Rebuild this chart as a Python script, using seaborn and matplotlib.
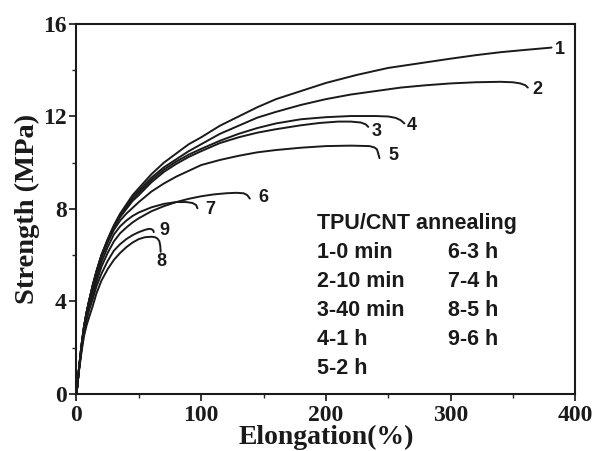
import matplotlib
matplotlib.use("Agg")
import matplotlib.pyplot as plt
import seaborn as sns
import pandas as pd
from matplotlib.ticker import MultipleLocator

sns.set_style("white")

# Stress-strain curves (elongation %, strength MPa)
c1_x = [0, 2, 4, 6, 8, 10, 13, 16, 20, 25, 30, 35, 40, 45, 50, 60, 70, 80, 90, 100, 115, 130, 145, 160, 180, 200, 225, 250, 275, 300, 320, 340, 360, 381]
c1_y = [0, 1.1, 2.1, 2.9, 3.5, 4.0, 4.7, 5.3, 6.0, 6.7, 7.3, 7.8, 8.2, 8.6, 8.9, 9.5, 10.0, 10.4, 10.8, 11.1, 11.6, 12.0, 12.4, 12.75, 13.1, 13.45, 13.8, 14.1, 14.3, 14.5, 14.65, 14.78, 14.88, 14.98]
c2_x = [0, 2, 4, 6, 8, 10, 13, 16, 20, 25, 30, 35, 40, 45, 50, 60, 70, 80, 90, 100, 115, 130, 145, 160, 180, 200, 220, 240, 260, 280, 300, 320, 340, 350, 356, 360, 362]
c2_y = [0, 1.1, 2.1, 2.9, 3.5, 4.0, 4.7, 5.3, 6.0, 6.65, 7.25, 7.7, 8.1, 8.5, 8.8, 9.35, 9.8, 10.15, 10.5, 10.8, 11.25, 11.6, 11.95, 12.2, 12.5, 12.75, 12.95, 13.1, 13.25, 13.35, 13.43, 13.48, 13.5, 13.48, 13.43, 13.35, 13.25]
c3_x = [0, 2, 4, 6, 8, 10, 13, 16, 20, 25, 30, 35, 40, 45, 50, 60, 70, 80, 90, 100, 115, 130, 145, 160, 180, 195, 210, 220, 228, 232, 234]
c3_y = [0, 1.1, 2.1, 2.9, 3.5, 4.0, 4.65, 5.25, 5.95, 6.6, 7.2, 7.65, 8.0, 8.35, 8.6, 9.15, 9.6, 9.95, 10.25, 10.5, 10.85, 11.1, 11.3, 11.45, 11.62, 11.72, 11.78, 11.78, 11.74, 11.66, 11.55]
c4_x = [0, 2, 4, 6, 8, 10, 13, 16, 20, 25, 30, 35, 40, 45, 50, 60, 70, 80, 90, 100, 115, 130, 145, 160, 180, 200, 220, 240, 250, 256, 260, 263]
c4_y = [0, 1.1, 2.1, 2.9, 3.5, 4.0, 4.7, 5.3, 6.0, 6.65, 7.25, 7.7, 8.05, 8.4, 8.7, 9.25, 9.7, 10.05, 10.35, 10.6, 10.95, 11.25, 11.5, 11.7, 11.88, 11.97, 12.02, 12.02, 12.0, 11.94, 11.84, 11.7]
c5_x = [0, 2, 4, 6, 8, 10, 13, 16, 20, 25, 30, 35, 40, 45, 50, 60, 70, 80, 90, 100, 115, 130, 145, 160, 180, 200, 220, 235, 239, 241, 242, 243]
c5_y = [0, 1.1, 2.1, 2.9, 3.5, 4.0, 4.6, 5.2, 5.9, 6.55, 7.1, 7.5, 7.8, 8.05, 8.3, 8.75, 9.1, 9.4, 9.65, 9.9, 10.12, 10.3, 10.45, 10.55, 10.65, 10.72, 10.74, 10.72, 10.66, 10.58, 10.4, 10.2]
c6_x = [0, 2, 4, 6, 8, 10, 13, 16, 20, 25, 30, 35, 40, 45, 50, 60, 70, 80, 90, 100, 110, 120, 128, 134, 137, 139]
c6_y = [0, 1.05, 1.95, 2.7, 3.25, 3.7, 4.3, 4.85, 5.5, 6.1, 6.6, 6.95, 7.2, 7.42, 7.6, 7.9, 8.12, 8.3, 8.44, 8.55, 8.63, 8.68, 8.7, 8.68, 8.6, 8.45]
c7_x = [0, 2, 4, 6, 8, 10, 13, 16, 20, 25, 30, 35, 40, 45, 50, 60, 70, 80, 88, 93, 96, 97]
c7_y = [0, 1.05, 2.0, 2.8, 3.35, 3.8, 4.4, 5.0, 5.7, 6.35, 6.9, 7.25, 7.5, 7.7, 7.85, 8.07, 8.22, 8.3, 8.3, 8.26, 8.17, 8.03]
c8_x = [0, 2, 4, 6, 8, 10, 13, 16, 20, 25, 30, 35, 40, 45, 50, 55, 60, 63, 65, 66.5, 67.2, 67.5]
c8_y = [0, 1.0, 1.8, 2.5, 2.95, 3.3, 3.8, 4.35, 4.9, 5.4, 5.8, 6.1, 6.35, 6.55, 6.7, 6.78, 6.8, 6.78, 6.72, 6.6, 6.4, 6.15]
c9_x = [0, 2, 4, 6, 8, 10, 13, 16, 20, 25, 30, 35, 40, 45, 50, 55, 58, 60, 61.5, 62]
c9_y = [0, 1.05, 1.95, 2.7, 3.2, 3.6, 4.1, 4.65, 5.2, 5.75, 6.2, 6.48, 6.7, 6.87, 7.0, 7.1, 7.14, 7.13, 7.08, 7.0]

curve_names = ["1", "2", "3", "4", "5", "6", "7", "8", "9"]
curves_x = [c1_x, c2_x, c3_x, c4_x, c5_x, c6_x, c7_x, c8_x, c9_x]
curves_y = [c1_y, c2_y, c3_y, c4_y, c5_y, c6_y, c7_y, c8_y, c9_y]

# curve label positions
label_x = [388, 370, 241, 269, 254, 150, 107, 68.4, 70.2]
label_y = [14.88, 13.15, 11.34, 11.63, 10.33, 8.49, 7.96, 5.72, 7.09]

legend_title = "TPU/CNT annealing"
legend_col1 = ["1-0 min", "2-10 min", "3-40 min", "4-1 h", "5-2 h"]
legend_col2 = ["6-3 h", "7-4 h", "8-5 h", "9-6 h"]

x_ticks = [0, 100, 200, 300, 400]
y_ticks = [0, 4, 8, 12, 16]

rows = []
for name, xs, ys in zip(curve_names, curves_x, curves_y):
    for i, (a, b) in enumerate(zip(xs, ys)):
        rows.append({"curve": name, "order": i, "x": a, "y": b})
df = pd.DataFrame(rows)

fig = plt.figure(figsize=(5.93, 4.51), dpi=100)
ax = fig.add_axes([0.129, 0.1264, 0.841, 0.8204])

for name in curve_names:
    sub = df[df["curve"] == name]
    sns.lineplot(data=sub, x="x", y="y", sort=False, estimator=None,
                 color="#1a1a1a", linewidth=1.4, ax=ax)

sans = ["Liberation Sans", "DejaVu Sans"]
serif = ["Liberation Serif", "DejaVu Serif"]

for name, lx, ly in zip(curve_names, label_x, label_y):
    ax.text(lx, ly, name, family=sans, fontweight="bold", fontsize=13,
            ha="center", va="center", color="#1a1a1a")

ax.text(193, 7.39, legend_title, family=sans, fontweight="bold", fontsize=15.5,
        ha="left", va="center", color="#1a1a1a")
leg_ys = [6.13, 4.86, 3.60, 2.34, 1.11]
for t, yy in zip(legend_col1, leg_ys):
    ax.text(193, yy, t, family=sans, fontweight="bold", fontsize=15.5,
            ha="left", va="center", color="#1a1a1a")
for t, yy in zip(legend_col2, leg_ys):
    ax.text(298, yy, t, family=sans, fontweight="bold", fontsize=15.5,
            ha="left", va="center", color="#1a1a1a")

ax.set_xlim(0, 400)
ax.set_ylim(0, 16)
ax.set_xticks(x_ticks)
ax.set_yticks(y_ticks)
ax.xaxis.set_minor_locator(MultipleLocator(50))
ax.yaxis.set_minor_locator(MultipleLocator(2))
ax.tick_params(which="both", direction="out", bottom=True, left=True, top=False, right=False)
ax.tick_params(which="major", length=5, width=1.3, pad=2)
ax.tick_params(axis="x", which="major", pad=3)
ax.tick_params(which="minor", length=3, width=1.0)
for lab in ax.get_xticklabels() + ax.get_yticklabels():
    lab.set_family(serif)
    lab.set_fontweight("bold")
    lab.set_fontsize(17)
    lab.set_color("#1a1a1a")

for s in ax.spines.values():
    s.set_linewidth(1.5)
    s.set_color("#1a1a1a")

ax.set_xlabel("Elongation(%)", family=serif, fontweight="bold", fontsize=20,
              color="#1a1a1a", labelpad=-1)
ax.set_ylabel("Strength (MPa)", family=serif, fontweight="bold", fontsize=20.5,
              color="#1a1a1a", labelpad=2)

fig.savefig("out.png", dpi=100, facecolor="white")
